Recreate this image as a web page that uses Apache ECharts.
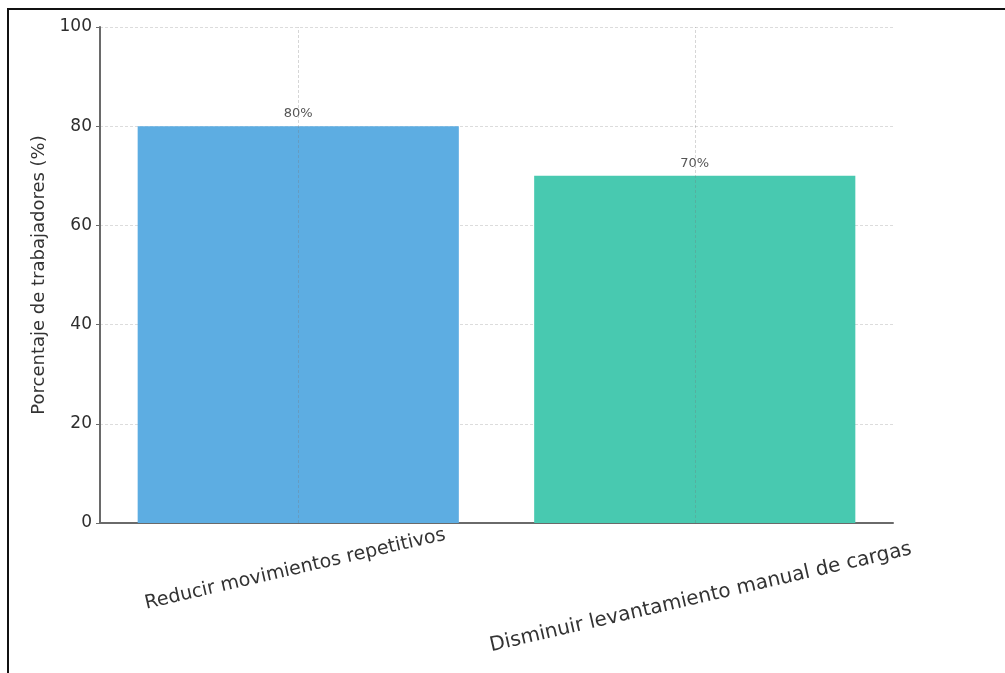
<!DOCTYPE html>
<html>
<head>
<meta charset="utf-8">
<script src="https://cdn.jsdelivr.net/npm/echarts@6/dist/echarts.min.js"></script>
<style>
  html, body { margin: 0; padding: 0; background: #fff; }
  #wrap { position: relative; width: 1005px; height: 673px; overflow: hidden; }
  #chart { position: absolute; left: 0; top: 0; width: 1005px; height: 673px; }
  #frame {
    position: absolute; left: 7px; top: 8px; width: 1010px; height: 680px;
    border-left: 2.5px solid #111; border-top: 2.5px solid #111;
    pointer-events: none;
  }
</style>
</head>
<body>
<div id="wrap">
  <div id="chart"></div>
  <div id="frame"></div>
</div>
<script>
// Measures and share of workers who chose each one
const categories = ['Reducir movimientos repetitivos', 'Disminuir levantamiento manual de cargas'];
const percentages = [80, 70];
const barColors = ['#5DADE2', '#48C9B0'];
const yAxisName = 'Porcentaje de trabajadores (%)';

const FONT = 'DejaVu Sans';

// Per-label offsets so each rotated label sits centred under its bar
const labelPads = [[31, 25, 0, 0], [60, 20, 0, 0]];
const labelSizes = [19, 20];
const rich = {};
labelPads.forEach((p, i) => {
  rich['c' + i] = { fontFamily: FONT, fontSize: labelSizes[i], color: '#333', padding: p };
});

const chart = echarts.init(document.getElementById('chart'), null, { renderer: 'canvas' });

chart.setOption({
  animation: false,
  backgroundColor: 'transparent',
  textStyle: { fontFamily: FONT },
  grid: { left: 100, right: 112, top: 27, bottom: 150, containLabel: false },
  xAxis: {
    type: 'category',
    data: categories,
    boundaryGap: true,
    axisLine: { show: true, lineStyle: { color: '#6a6a6a', width: 2 } },
    axisTick: { show: true, alignWithLabel: true, inside: true, length: 4, lineStyle: { color: '#444' } },
    splitLine: { show: false },
    axisLabel: {
      interval: 0,
      hideOverlap: false,
      rotate: 13,
      align: 'center',
      verticalAlign: 'top',
      margin: 4,
      fontFamily: FONT,
      fontSize: 19,
      color: '#333',
      formatter: (v, i) => '{c' + i + '|' + v + '}',
      rich: rich
    }
  },
  yAxis: {
    type: 'value',
    min: 0,
    max: 100,
    interval: 20,
    name: yAxisName,
    nameLocation: 'middle',
    nameGap: 52,
    nameTextStyle: { fontFamily: FONT, fontSize: 18, color: '#333' },
    axisLine: { show: true, lineStyle: { color: '#6a6a6a', width: 2 } },
    axisTick: { show: true, length: 4, lineStyle: { color: '#6a6a6a' } },
    axisLabel: { fontFamily: FONT, fontSize: 17, color: '#2e2e2e', margin: 8 },
    splitLine: { show: true, lineStyle: { color: '#dcdcdc', width: 1, type: [3, 2] } }
  },
  series: [{
    type: 'bar',
    barWidth: '81%',
    data: percentages.map((v, i) => ({ value: v, itemStyle: { color: barColors[i] } })),
    label: {
      show: true,
      position: 'top',
      distance: 6,
      formatter: '{c}%',
      fontFamily: FONT,
      fontSize: 13,
      color: '#555'
    },
    markLine: {
      silent: true,
      symbol: ['none', 'none'],
      label: { show: false },
      lineStyle: { color: 'rgba(120,120,120,0.3)', width: 1, type: [3, 2] },
      data: categories.map(c => ({ xAxis: c }))
    }
  }]
});
</script>
</body>
</html>
